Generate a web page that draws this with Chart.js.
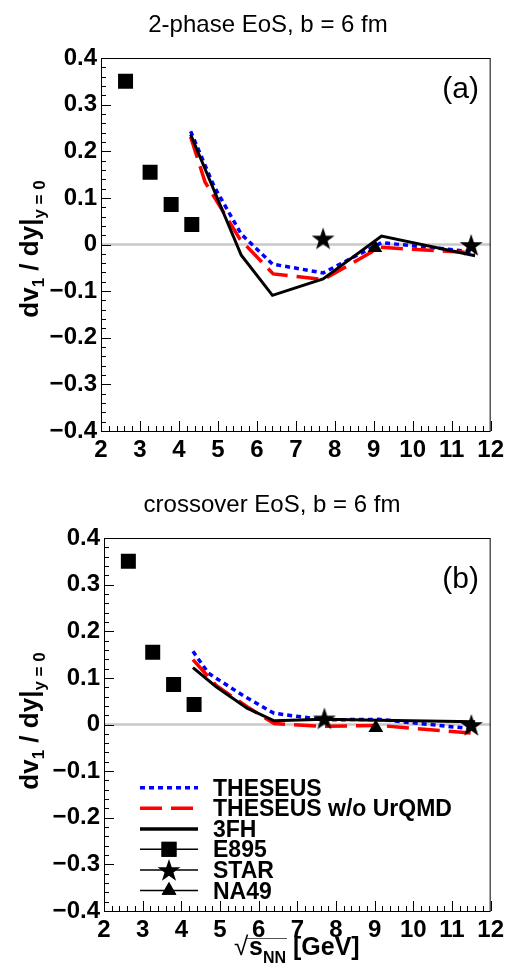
<!DOCTYPE html>
<html>
<head>
<meta charset="utf-8">
<script src="https://cdn.jsdelivr.net/npm/chart.js@4.4.1/dist/chart.umd.min.js"></script>
<style>
  body { margin: 0; background: #fff; }
  canvas { display: block; }
</style>
</head>
<body>
<canvas id="chartA" width="509" height="480"></canvas>
<canvas id="chartB" width="509" height="487"></canvas>
<script>
// measured points (same in both panels)
const e895X = [2.63, 3.26, 3.8, 4.33];
const e895Y = [0.35, 0.155, 0.086, 0.043];
const starX = [7.7, 11.5];
const starY = [0.013, -0.001];
const na49X = [9.03];
const na49Y = [-0.007];

// (a) 2-phase EoS
const theseusAX = [4.3, 4.9, 5.6, 6.4, 7.7, 9.2, 11.6];
const theseusAY = [0.243, 0.125, 0.022, -0.042, -0.061, 0.004, -0.016];
const noUrqmdAX = [4.3, 4.67, 5.57, 6.42, 7.71, 9.16, 11.6];
const noUrqmdAY = [0.231, 0.134, 0.011, -0.063, -0.075, -0.006, -0.018];
const fh3AX = [4.3, 5.6, 6.4, 7.7, 9.2, 11.6];
const fh3AY = [0.236, -0.023, -0.109, -0.074, 0.018, -0.024];

// (b) crossover EoS
const theseusBX = [4.3, 4.7, 5.6, 6.4, 7.7, 9.1, 11.5];
const theseusBY = [0.157, 0.11, 0.062, 0.024, 0.01, 0.011, -0.009];
const noUrqmdBX = [4.3, 4.9, 5.7, 6.4, 7.7, 9.1, 11.6];
const noUrqmdBY = [0.139, 0.084, 0.038, 0.002, -0.004, -0.002, -0.019];
const fh3BX = [4.3, 4.9, 5.7, 6.4, 7.7, 9.1, 11.6];
const fh3BY = [0.122, 0.081, 0.035, 0.008, 0.011, 0.009, 0.006];

const xTicks = [2, 3, 4, 5, 6, 7, 8, 9, 10, 11, 12];
const yTicks = [-0.4, -0.3, -0.2, -0.1, 0, 0.1, 0.2, 0.3, 0.4];

const FONT = '"Liberation Sans", Arial, Helvetica, sans-serif';

// filled five-point star, like ROOT marker 29
const starImg = document.createElement('canvas');
starImg.width = 24; starImg.height = 24;
(function () {
    const c = starImg.getContext('2d');
    c.fillStyle = '#000';
    c.beginPath();
    for (let i = 0; i < 10; i++) {
        const r = i % 2 === 0 ? 12 : 4.7;
        const a = -Math.PI / 2 + i * Math.PI / 5;
        const px = 12 + r * Math.cos(a), py = 13 + r * Math.sin(a);
        if (i === 0) c.moveTo(px, py); else c.lineTo(px, py);
    }
    c.closePath();
    c.fill();
})();

const pts = (xs, ys) => xs.map((v, i) => ({ x: v, y: ys[i] }));

function datasets(th, nu, fh) {
    return [
        { label: 'E895', data: pts(e895X, e895Y), pointStyle: 'rect', pointRadius: 10.6,
          backgroundColor: '#000', borderWidth: 0, showLine: false },
        { label: 'STAR', data: pts(starX, starY), pointStyle: starImg, pointRadius: 12,
          showLine: false },
        { label: 'NA49', data: pts(na49X, na49Y), pointStyle: 'triangle', pointRadius: 8.5,
          backgroundColor: '#000', borderWidth: 0, showLine: false },
        { label: '3FH', data: fh, showLine: true, borderColor: '#000', borderWidth: 3,
          pointRadius: 0, fill: false },
        { label: 'THESEUS w/o UrQMD', data: nu, showLine: true, borderColor: '#ff0000',
          borderWidth: 3.5, borderDash: [22, 9], pointRadius: 0, fill: false },
        { label: 'THESEUS', data: th, showLine: true, borderColor: '#0000ff', borderWidth: 3.5,
          borderDash: [5, 4], pointRadius: 0, fill: false }
    ];
}

function drawSub(ctx, parts, x, y) {
    // parts: [text, size, dy]
    let cx = x;
    parts.forEach(([t, size, dy, weight]) => {
        ctx.font = (weight || 'bold') + ' ' + size + 'px ' + FONT;
        ctx.fillText(t, cx, y + dy);
        cx += ctx.measureText(t).width;
    });
    return cx;
}
function partsWidth(ctx, parts) {
    let w = 0;
    parts.forEach(([t, size, dy, weight]) => {
        ctx.font = (weight || 'bold') + ' ' + size + 'px ' + FONT;
        w += ctx.measureText(t).width;
    });
    return w;
}

function panelPlugin(p) {
    return {
        id: 'panel' + p.tag,
        beforeDatasetsDraw(chart) {
            const { ctx, chartArea: a, scales: { y } } = chart;
            const y0 = y.getPixelForValue(0);
            ctx.save();
            ctx.strokeStyle = '#c8c8c8';
            ctx.lineWidth = 2.5;
            ctx.beginPath();
            ctx.moveTo(a.left, y0);
            ctx.lineTo(a.right, y0);
            ctx.stroke();
            ctx.restore();
        },
        afterDraw(chart) {
            const { ctx, chartArea: a, scales: { x, y } } = chart;
            ctx.save();
            // frame
            ctx.strokeStyle = '#000';
            ctx.lineWidth = 1;
            ctx.strokeRect(a.left + 0.5, a.top + 0.5, a.right - a.left - 1, a.bottom - a.top);
            // ticks inside the frame
            ctx.beginPath();
            for (let i = -20; i <= 20; i++) {
                const py = Math.round(y.getPixelForValue(i * 0.02)) + 0.5;
                const len = i % 5 === 0 ? 10 : 5;
                ctx.moveTo(a.left, py);
                ctx.lineTo(a.left + len, py);
            }
            for (let i = 10; i <= 60; i++) {
                const px = Math.round(x.getPixelForValue(i / 5)) + 0.5;
                const len = i % 5 === 0 ? 10 : 5;
                ctx.moveTo(px, a.bottom);
                ctx.lineTo(px, a.bottom - len);
            }
            ctx.stroke();

            ctx.fillStyle = '#000';
            ctx.textBaseline = 'alphabetic';
            // panel title
            ctx.font = '24px ' + FONT;
            ctx.textAlign = 'center';
            ctx.fillText(p.title, p.titleX, 32);
            // panel tag
            ctx.font = '30px ' + FONT;
            ctx.textAlign = 'right';
            ctx.fillText(p.tag, 479, p.tagY);

            // y axis title
            ctx.textAlign = 'left';
            const yParts = [['dv', 26, 0], ['1', 17, 6], [' / dy', 26, 0], ['|', 26, 0], ['y = 0', 17, 7]];
            const w = partsWidth(ctx, yParts);
            ctx.save();
            ctx.translate(38, p.yTitleY);
            ctx.rotate(-Math.PI / 2);
            drawSub(ctx, yParts, -w / 2, 0);
            ctx.restore();

            if (p.xTitle) {
                ctx.font = '26px ' + FONT;
                ctx.fillText('\u221A', 234, 475);
                const sx = 249;
                const end = drawSub(ctx, [['s', 25, 0], ['NN', 16, 8]], sx, 475);
                ctx.lineWidth = 1;
                ctx.strokeStyle = '#555';
                ctx.beginPath();
                ctx.moveTo(sx - 2, 458.5);
                ctx.lineTo(end + 1, 458.5);
                ctx.stroke();
                drawSub(ctx, [[' [GeV]', 25, 0]], end, 475);
            }

            if (p.legend) {
                const lx0 = 140, lx1 = 198, mx = 169, tx = 213;
                const rows = [
                    { t: 'THESEUS', y: 307.7, c: '#0000ff', d: [5, 4], w: 3.5 },
                    { t: 'THESEUS w/o UrQMD', y: 328.3, c: '#ff0000', d: [22, 9], w: 3.5 },
                    { t: '3FH', y: 349, c: '#000', d: [], w: 3.5 },
                    { t: 'E895', y: 369.3, m: 'rect', r: 10.6 },
                    { t: 'STAR', y: 390, m: starImg, r: 12 },
                    { t: 'NA49', y: 410.5, m: 'triangle', r: 8.5 }
                ];
                rows.forEach(r => {
                    ctx.save();
                    if (r.m) {
                        ctx.strokeStyle = '#000';
                        ctx.lineWidth = 1.5;
                        ctx.beginPath();
                        ctx.moveTo(lx0, r.y);
                        ctx.lineTo(lx1, r.y);
                        ctx.stroke();
                        ctx.fillStyle = '#000';
                        Chart.helpers.drawPoint(ctx, { pointStyle: r.m, radius: r.r, borderWidth: 0 }, mx, r.y);
                        ctx.fill();
                    } else {
                        ctx.strokeStyle = r.c;
                        ctx.lineWidth = r.w;
                        ctx.setLineDash(r.d);
                        ctx.beginPath();
                        ctx.moveTo(lx0, r.y);
                        ctx.lineTo(lx1, r.y);
                        ctx.stroke();
                    }
                    ctx.restore();
                    ctx.font = 'bold 23px ' + FONT;
                    ctx.textAlign = 'left';
                    ctx.fillStyle = '#000';
                    ctx.fillText(r.t, tx, r.y + 8);
                });
            }
            ctx.restore();
        }
    };
}

function makeChart(id, ds, p) {
    const canvasH = document.getElementById(id).height;
    return new Chart(document.getElementById(id), {
        type: 'scatter',
        data: { datasets: ds },
        options: {
            responsive: false,
            animation: false,
            layout: { padding: { top: 58, right: p.right, left: 0, bottom: 0 } },
            plugins: { legend: { display: false }, title: { display: false }, tooltip: { enabled: false } },
            scales: {
                x: {
                    type: 'linear', min: 2, max: 12,
                    afterFit: s => { s.height = canvasH - 431; },
                    afterBuildTicks: s => { s.ticks = xTicks.map(v => ({ value: v })); },
                    grid: { display: false, drawTicks: false },
                    border: { display: false },
                    ticks: { color: '#000', padding: 5, font: { family: FONT, size: 24, weight: 'bold' } }
                },
                y: {
                    type: 'linear', min: -0.4, max: 0.4,
                    afterFit: s => { s.width = p.left; },
                    afterBuildTicks: s => { s.ticks = yTicks.map(v => ({ value: v })); },
                    grid: { display: false, drawTicks: false },
                    border: { display: false },
                    ticks: {
                        color: '#000', padding: 4,
                        font: { family: FONT, size: 24, weight: 'bold' },
                        callback: v => v === 0 ? '0' : (v < 0 ? '\u2212' : '') + Math.abs(v).toFixed(1)
                    }
                }
            }
        },
        plugins: [panelPlugin(p)]
    });
}

makeChart('chartA', datasets(pts(theseusAX, theseusAY), pts(noUrqmdAX, noUrqmdAY), pts(fh3AX, fh3AY)), {
    tag: '(a)', tagY: 98, title: '2-phase EoS, b = 6 fm', titleX: 268,
    left: 101, right: 18, yTitleY: 249, xTitle: false, legend: false
});
makeChart('chartB', datasets(pts(theseusBX, theseusBY), pts(noUrqmdBX, noUrqmdBY), pts(fh3BX, fh3BY)), {
    tag: '(b)', tagY: 108, title: 'crossover EoS, b = 6 fm', titleX: 272,
    left: 104, right: 16, yTitleY: 241, xTitle: true, legend: true
});
</script>
</body>
</html>
